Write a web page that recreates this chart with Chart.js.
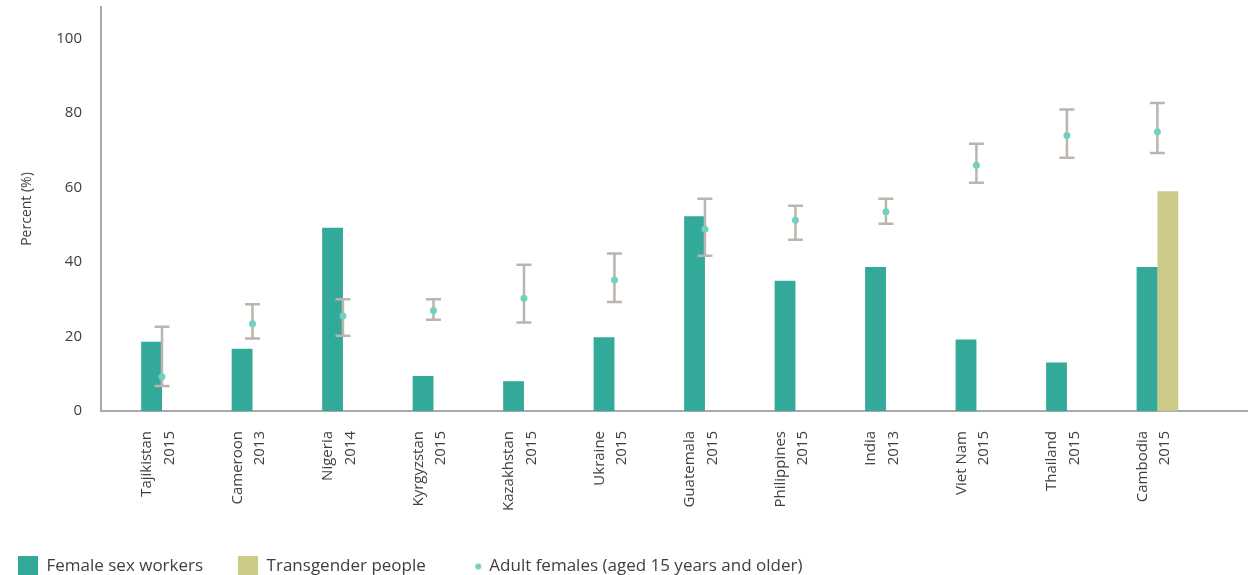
<!DOCTYPE html>
<html>
<head>
<meta charset="utf-8">
<title>Female sex workers, transgender people and adult females, by country</title>
<script src="https://cdn.jsdelivr.net/npm/chart.js@4/dist/chart.umd.min.js"></script>
<style>
  html, body { margin: 0; padding: 0; background: #ffffff; }
  #wrap { width: 1251px; height: 575px; }
</style>
</head>
<body>
<div id="wrap"><canvas id="chart" width="1251" height="575"></canvas></div>
<script>
// Countries and survey years shown along the x axis
const countries = ['Tajikistan', 'Cameroon', 'Nigeria', 'Kyrgyzstan', 'Kazakhstan', 'Ukraine',
                   'Guatemala', 'Philippines', 'India', 'Viet Nam', 'Thailand', 'Cambodia'];
const years = ['2015', '2013', '2014', '2015', '2015', '2015', '2015', '2015', '2013', '2015', '2015', '2015'];

// Percent values per country
const femaleSexWorkers = [18.6, 16.7, 49.2, 9.4, 8.0, 19.8, 52.3, 35.0, 38.7, 19.2, 13.0, 38.7];
const transgenderPeople = [null, null, null, null, null, null, null, null, null, null, null, 59.0];
const adultFemales = [9.2, 23.4, 25.5, 27.0, 30.3, 35.2, 48.8, 51.2, 53.5, 66.0, 74.0, 75.0];
const adultFemalesLow = [6.7, 19.5, 20.2, 24.5, 23.8, 29.3, 41.7, 46.0, 50.3, 61.3, 68.0, 69.3];
const adultFemalesHigh = [22.6, 28.7, 30.0, 30.0, 39.3, 42.3, 57.0, 55.1, 57.0, 71.8, 81.0, 82.7];

// Y axis tick values
const yTicks = [0, 20, 40, 60, 80, 100];

const TEAL = '#33a99a';
const OLIVE = '#cbca88';
const DOT = '#72d0c3';
const WHISKER = '#bdb5ad';
const TEXT = '#404040';
const AXIS = '#a9a9ab';

const pts = arr => arr.map((v, i) => ({ x: i, y: v }));

// Legend swatches drawn as small canvases
function swatch(color, w, h) {
  const c = document.createElement('canvas');
  c.width = w; c.height = h;
  const g = c.getContext('2d');
  g.fillStyle = color;
  g.fillRect(0, 0, w, h);
  return c;
}
// small dot sitting towards the right of its box, close to the label
function dot(color, r, shift) {
  const c = document.createElement('canvas');
  c.width = 2 * (shift + r + 1);
  c.height = 2 * (r + 1);
  const g = c.getContext('2d');
  g.fillStyle = color;
  g.beginPath();
  g.arc(c.width / 2 + shift, r + 1, r, 0, Math.PI * 2);
  g.fill();
  return c;
}
const legendIcons = [swatch(TEAL, 20, 22), swatch(OLIVE, 20, 22), dot(DOT, 3, 7.5)];

// Confidence intervals for adult females, drawn beneath the dots
const errorBars = {
  id: 'errorBars',
  beforeDatasetDraw(chart, args) {
    if (args.index !== 2) return;
    const { ctx, scales: { x, y } } = chart;
    const cap = 7.5;
    ctx.save();
    ctx.strokeStyle = WHISKER;
    ctx.lineWidth = 2.5;
    ctx.lineCap = 'butt';
    adultFemalesLow.forEach((lo, i) => {
      const px = x.getPixelForValue(i);
      const yl = y.getPixelForValue(lo);
      const yh = y.getPixelForValue(adultFemalesHigh[i]);
      ctx.beginPath();
      ctx.moveTo(px, yl); ctx.lineTo(px, yh);
      ctx.moveTo(px - cap, yl); ctx.lineTo(px + cap, yl);
      ctx.moveTo(px - cap, yh); ctx.lineTo(px + cap, yh);
      ctx.stroke();
    });
    ctx.restore();
  }
};

new Chart(document.getElementById('chart'), {
  type: 'bar',
  data: {
    datasets: [
      {
        label: 'Female sex workers',
        data: pts(femaleSexWorkers),
        backgroundColor: TEAL,
        barPercentage: 1,
        categoryPercentage: 0.46,
        order: 1
      },
      {
        label: 'Transgender people',
        data: pts(transgenderPeople),
        backgroundColor: OLIVE,
        barPercentage: 1,
        categoryPercentage: 0.46,
        order: 1
      },
      {
        type: 'line',
        label: 'Adult females (aged 15 years and older)',
        data: pts(adultFemales),
        showLine: false,
        pointStyle: 'circle',
        pointRadius: 3.5,
        pointBackgroundColor: DOT,
        pointBorderWidth: 0,
        order: 0
      }
    ]
  },
  options: {
    responsive: false,
    animation: false,
    events: [],
    layout: { padding: { top: 7, right: 0, left: -17, bottom: -10 } },
    scales: {
      x: {
        type: 'linear',
        offset: false,
        min: -0.674,
        max: 11.99,
        afterBuildTicks: axis => { axis.ticks = countries.map((_, i) => ({ value: i })); },
        afterFit: axis => { axis.height = 112; axis.paddingLeft = 0; axis.paddingRight = 0; },
        grid: { display: false, drawTicks: false, offset: false },
        border: { display: true, color: AXIS, width: 2 },
        ticks: {
          autoSkip: false,
          minRotation: 90,
          maxRotation: 90,
          padding: 20,
          labelOffset: -15,
          color: TEXT,
          font: { family: 'Open Sans', size: 15, lineHeight: 1.5 },
          callback: v => [countries[v], years[v]]
        }
      },
      y: {
        min: 0,
        max: 108.5,
        afterBuildTicks: axis => { axis.ticks = yTicks.map(v => ({ value: v })); },
        afterFit: axis => { axis.width = 118; axis.paddingTop = 0; axis.paddingBottom = 0; },
        grid: { display: false, drawTicks: false },
        border: { display: true, color: AXIS, width: 2 },
        ticks: {
          padding: 19,
          color: TEXT,
          font: { family: 'Open Sans', size: 15 }
        },
        title: {
          display: true,
          text: 'Percent (%)',
          color: TEXT,
          padding: { top: 35.6, bottom: 0 },
          font: { family: 'Open Sans', size: 14 }
        }
      }
    },
    plugins: {
      tooltip: { enabled: false },
      legend: {
        position: 'bottom',
        align: 'start',
        labels: {
          usePointStyle: true,
          pointStyleWidth: 20,
          padding: 35,
          color: TEXT,
          font: { family: 'Open Sans', size: 17 },
          sort: (a, b) => a.datasetIndex - b.datasetIndex,
          generateLabels: chart => {
            const items = Chart.defaults.plugins.legend.labels.generateLabels(chart);
            items.forEach(it => { it.pointStyle = legendIcons[it.datasetIndex]; });
            return items;
          }
        }
      }
    }
  },
  plugins: [errorBars]
});
</script>
</body>
</html>
